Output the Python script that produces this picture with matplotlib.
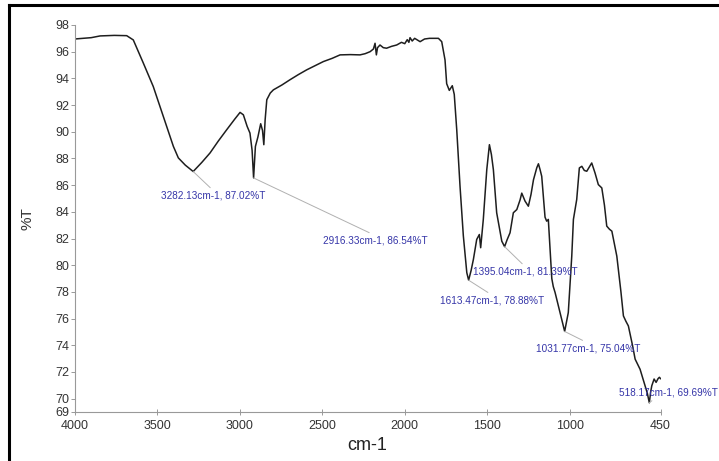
import matplotlib
matplotlib.use("Agg")
import matplotlib.pyplot as plt
from matplotlib.lines import Line2D

# --- FTIR spectrum ---
wavenumber = [4000, 3950, 3900, 3846, 3760, 3685, 3645, 3584, 3524, 3463,
              3402, 3372, 3330, 3282, 3230, 3180, 3130, 3079, 3030, 2998,
              2978, 2955, 2938, 2925, 2916, 2905, 2890, 2873, 2862, 2854,
              2846, 2836, 2815, 2796, 2745, 2695, 2645, 2594, 2543, 2493,
              2440, 2392, 2330, 2271, 2240, 2210, 2190, 2180, 2172, 2165,
              2150, 2130, 2110, 2080, 2049, 2020, 2000, 1985, 1975, 1968,
              1955, 1940, 1907, 1880, 1850, 1827, 1796, 1776, 1756, 1746,
              1730, 1712, 1700, 1685, 1665, 1645, 1624, 1613, 1598, 1584,
              1564, 1548, 1540, 1524, 1503, 1487, 1475, 1463, 1443, 1412,
              1395, 1380, 1362, 1342, 1321, 1301, 1291, 1281, 1271, 1251,
              1235, 1220, 1200, 1190, 1180, 1170, 1150, 1140, 1130, 1109,
              1100, 1089, 1059, 1031, 1009, 988, 978, 958, 942, 927,
              912, 897, 880, 867, 847, 827, 806, 790, 776, 760,
              745, 715, 690, 675, 660, 645, 620, 604, 574, 544,
              530, 518, 510, 503, 489, 477, 465, 457, 450]
transmittance = [96.95, 97.0, 97.05, 97.18, 97.22, 97.2, 96.88, 95.14, 93.39, 91.15,
                 88.9, 88.04, 87.5, 87.02, 87.7, 88.41, 89.3, 90.15, 90.95, 91.45,
                 91.27, 90.4, 89.9, 88.6, 86.54, 88.9, 89.6, 90.6, 90.1, 89.03,
                 90.9, 92.4, 92.9, 93.14, 93.5, 93.9, 94.28, 94.64, 94.95, 95.26,
                 95.5, 95.76, 95.78, 95.76, 95.85, 96.0, 96.2, 96.63, 95.76, 96.3,
                 96.5, 96.3, 96.26, 96.4, 96.5, 96.7, 96.6, 96.9, 96.7, 97.05,
                 96.8, 97.0, 96.75, 96.95, 97.0, 97.0, 97.0, 96.75, 95.38, 93.6,
                 93.1, 93.45, 92.8, 90.15, 85.9, 82.2, 79.44, 78.88, 79.6, 80.44,
                 81.93, 82.3, 81.31, 83.43, 87.16, 89.03, 88.3, 87.16, 83.93, 81.8,
                 81.39, 81.9, 82.43, 83.93, 84.17, 84.9, 85.4, 85.1, 84.8, 84.42,
                 85.3, 86.4, 87.3, 87.6, 87.16, 86.66, 83.6, 83.3, 83.43, 79.0,
                 78.4, 77.95, 76.45, 75.04, 76.45, 80.68, 83.43, 84.92, 87.29, 87.41,
                 87.1, 87.04, 87.4, 87.66, 86.91, 86.04, 85.79, 84.5, 82.93, 82.7,
                 82.55, 80.68, 78.0, 76.2, 75.8, 75.45, 74.0, 72.96, 72.2, 70.97,
                 70.4, 69.69, 70.5, 70.97, 71.47, 71.22, 71.5, 71.6, 71.5]

# --- peak labels ---
peak_wn = [3282.13, 2916.33, 1613.47, 1395.04, 1031.77, 518.17]
peak_t = [87.02, 86.54, 78.88, 81.39, 75.04, 69.69]
label_wn = [3161, 2180, 1470, 1271, 889, 405]
label_t = [85.6, 82.23, 77.75, 79.9, 74.16, 70.8]

x_ticks = [4000, 3500, 3000, 2500, 2000, 1500, 1000, 450]
y_ticks = [69] + list(range(70, 99, 2))

narrow = ['Liberation Sans Narrow', 'Liberation Sans', 'DejaVu Sans']
plt.rcParams['font.family'] = narrow

fig = plt.figure(figsize=(7.19, 4.61), dpi=100)
ax = fig.add_axes([0.1039, 0.1063, 0.8148, 0.8395])

ax.plot(wavenumber, transmittance, color='#1e1e1e', lw=1.1)

for pw, pt, lw_, lt in zip(peak_wn, peak_t, label_wn, label_t):
    ax.annotate(f"{pw:.2f}cm-1, {pt:.2f}%T", xy=(pw, pt), xytext=(lw_, lt),
                textcoords='data', ha='center', va='top', fontsize=7.2,
                color='#3535a8', annotation_clip=False,
                arrowprops=dict(arrowstyle='-', color='#b0b0b0', lw=0.7,
                                shrinkA=0, shrinkB=0, relpos=(0.5, 1.0)))

ax.set_xlim(4000, 450)
ax.set_ylim(69, 98)
ax.set_xticks(x_ticks)
ax.set_yticks(y_ticks)
ax.tick_params(axis='y', direction='out', length=3, width=0.7, colors='#999999',
               labelcolor='#333333', labelsize=9, pad=1)
ax.tick_params(axis='x', direction='inout', length=5, width=0.7, colors='#999999',
               labelcolor='#333333', labelsize=9, pad=3)

for side in ['top', 'right']:
    ax.spines[side].set_visible(False)
for side in ['left', 'bottom']:
    ax.spines[side].set_color('#999999')
    ax.spines[side].set_linewidth(0.8)

ax.set_xlabel('cm-1', fontsize=13, color='#222222', labelpad=4)
ax.set_ylabel('%T', fontsize=11, color='#333333', labelpad=15)

# black frame on left and top edge of the picture
fig.add_artist(Line2D([9 / 719, 9 / 719], [0, 1 - 5 / 461], color='black', lw=2.2))
fig.add_artist(Line2D([9 / 719, 1], [1 - 5 / 461, 1 - 5 / 461], color='black', lw=2.2))

fig.savefig('out.png', dpi=100)
